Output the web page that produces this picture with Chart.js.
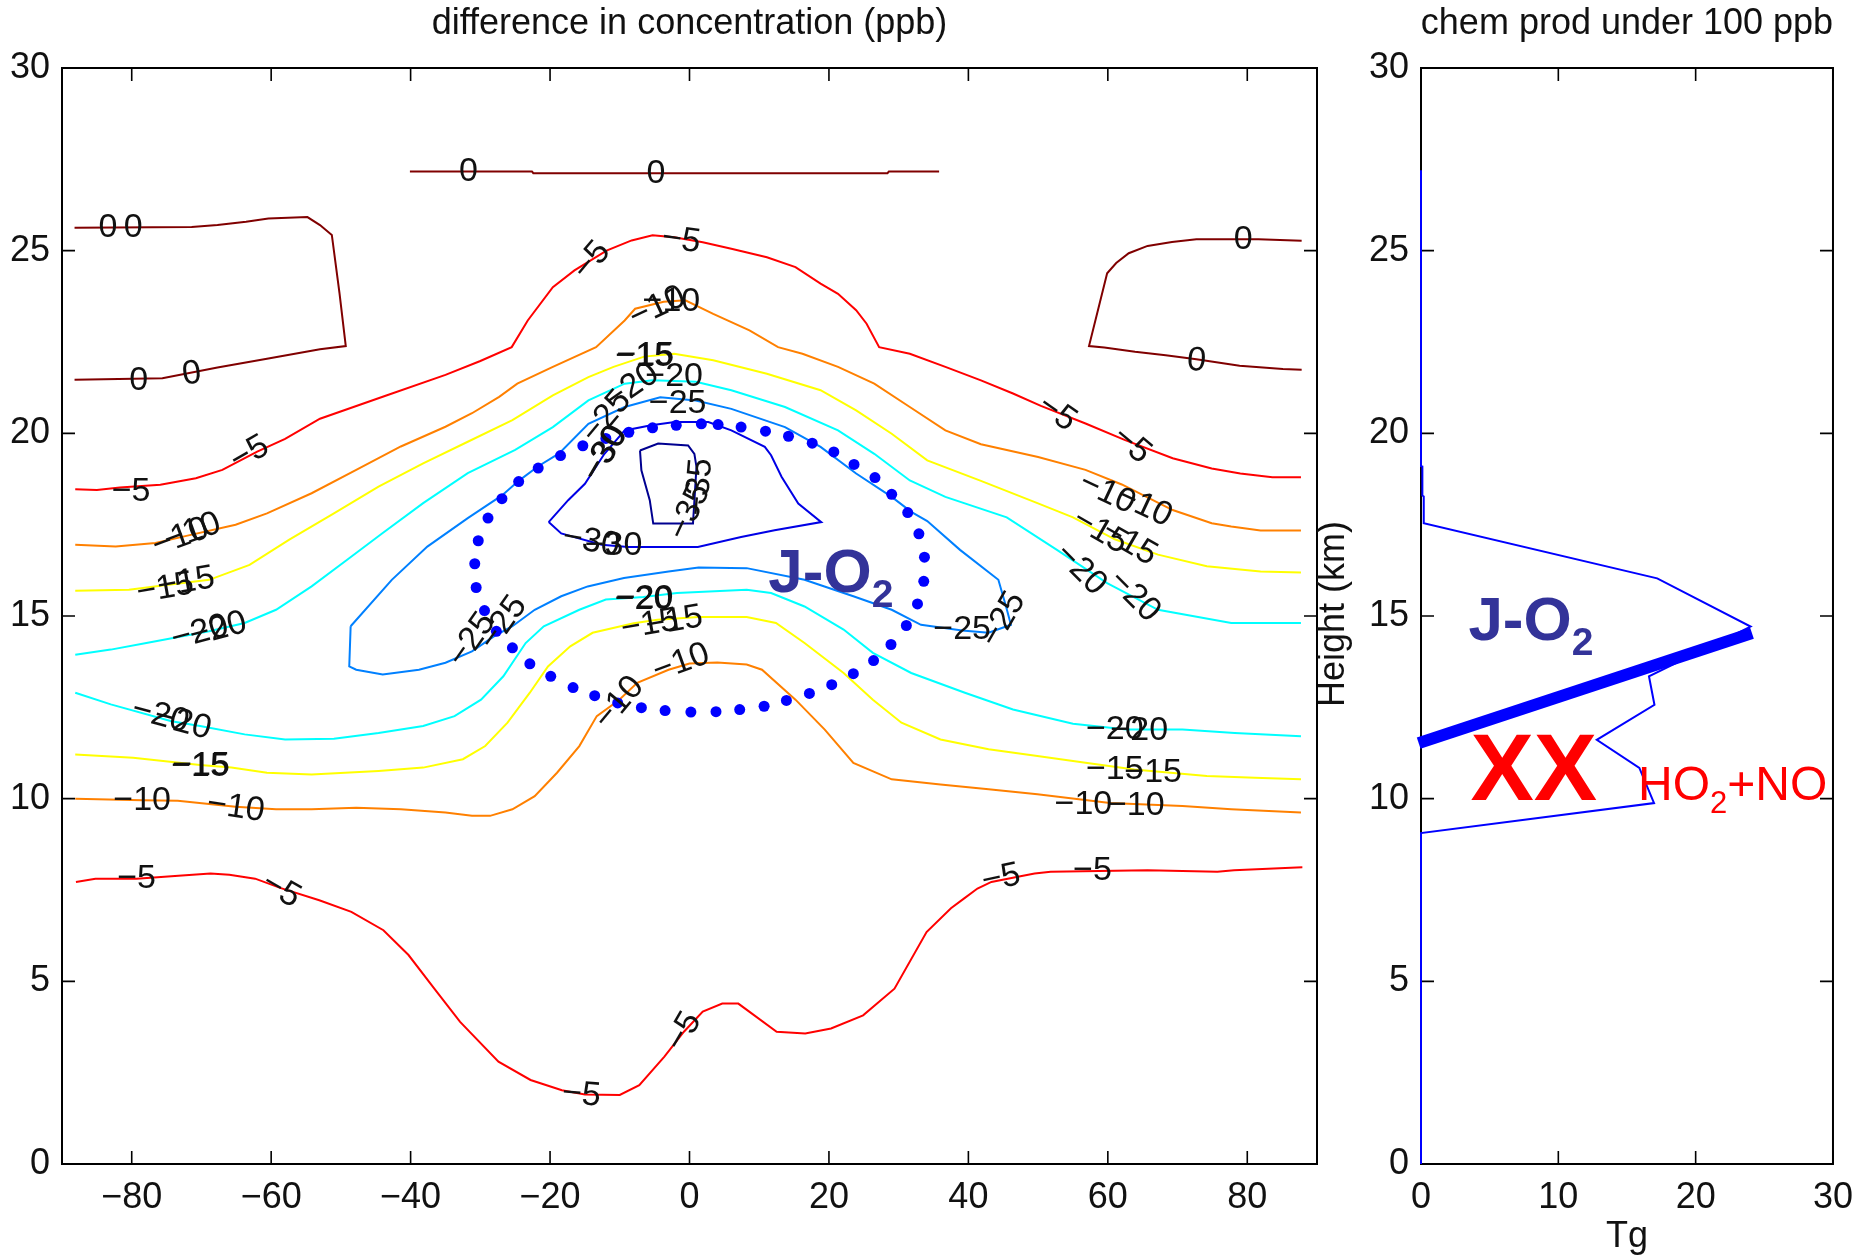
<!DOCTYPE html>
<html><head><meta charset="utf-8">
<script src="https://cdn.jsdelivr.net/npm/chart.js@4.4.1/dist/chart.umd.min.js"></script>
<style>
html,body{margin:0;padding:0;background:#fff;width:1865px;height:1260px;overflow:hidden;}
#wrapL{position:absolute;left:0;top:0;width:1330px;height:1260px;}
#wrapR{position:absolute;left:1300px;top:0;width:565px;height:1260px;}
canvas{display:block;}
</style></head><body>
<div id="wrapL"><canvas id="cL" width="1330" height="1260" style="width:1330px;height:1260px"></canvas></div>
<div id="wrapR"><canvas id="cR" width="565" height="1260" style="width:565px;height:1260px"></canvas></div>
<script>
// ---------- tick labels ----------
const lonTicks = [-80,-60,-40,-20,0,20,40,60,80];
const altTicks = [0,5,10,15,20,25,30];
const tgTicks = [0,10,20,30];

// ---------- contour levels ----------
const levels = [0,-5,-10,-15,-20,-25,-30,-35];
const levelColors = ['#800000','#ff0000','#ff8000','#ffff00','#00ffff','#0080ff','#0000e6','#000090'];

// ---------- contour lines [lon, alt] ----------
const c0_top = [[-40.1,27.17],[-22.6,27.17],[-22.4,27.12],[28.4,27.12],[28.6,27.17],[35.8,27.17]];
const c0_left = [[-88.2,25.63],[-71.4,25.65],[-67.7,25.70],[-63.6,25.79],[-60.4,25.88],[-54.8,25.92],[-53,25.7],[-51.3,25.43],[-50.2,23.84],[-49.3,22.39],[-53,22.3],[-60.4,22.05],[-67.7,21.8],[-75.6,21.51],[-88.2,21.47]];
const c0_right = [[87.8,25.27],[81.6,25.31],[72.7,25.31],[69.2,25.24],[65.7,25.13],[63,24.93],[61.2,24.66],[59.9,24.38],[57.3,22.39],[59.5,22.35],[63.9,22.23],[68.3,22.14],[72.7,22.03],[78.9,21.85],[85.1,21.76],[87.8,21.74]];

const c5_top = [[-88.1,18.47],[-85,18.45],[-81.7,18.52],[-75.9,18.59],[-70.8,18.77],[-67,19.0],[-62,19.5],[-58,19.85],[-53,20.4],[-44,21.0],[-35,21.6],[-30,21.98],[-25.5,22.36],[-23.2,23.09],[-19.6,24.0],[-16.5,24.46],[-11.9,25.0],[-8.3,25.28],[-5.3,25.42],[-2.2,25.37],[1.9,25.23],[6.0,25.05],[11.1,24.82],[15.2,24.55],[18.8,24.1],[21.3,23.82],[23.9,23.37],[25.4,23.0],[27.2,22.36],[31.6,22.18],[36.7,21.82],[41.8,21.45],[46.4,21.09],[50.4,20.75],[56.8,20.27],[62.4,19.82],[69.3,19.32],[74.9,19.04],[79.0,18.9],[83.6,18.8],[87.7,18.8]];
const c5_bottom = [[-88,7.72],[-85.2,7.81],[-79.3,7.81],[-73.3,7.89],[-68.7,7.95],[-66,7.92],[-62.3,7.81],[-58.6,7.55],[-53.1,7.22],[-48.5,6.9],[-43.9,6.4],[-40.3,5.72],[-36.6,4.8],[-32.9,3.89],[-27.4,2.8],[-22.8,2.3],[-18.3,2.02],[-15,1.9],[-10,1.89],[-7.2,2.16],[-3.6,2.94],[-0.8,3.62],[1.9,4.17],[4.7,4.39],[7.0,4.39],[12.5,3.62],[16.6,3.57],[20.3,3.71],[24.9,4.07],[29.4,4.8],[34.0,6.35],[37.5,7.0],[39.4,7.27],[41.3,7.54],[43.3,7.72],[47.1,7.86],[49.5,7.95],[51.8,8.0],[65.7,8.04],[75.7,8.0],[78.1,8.04],[83.8,8.09],[87.9,8.12]];

const c10_upper = [[-88.1,16.95],[-82.3,16.9],[-76.6,17.0],[-72,17.2],[-65.1,17.5],[-60.6,17.81],[-54.2,18.36],[-47.8,19.0],[-41.4,19.64],[-35.0,20.18],[-31.2,20.55],[-27.3,21.0],[-24.7,21.36],[-19.6,21.82],[-13.4,22.36],[-9.3,23.09],[-7.8,23.41],[-3.7,23.6],[-0.6,23.64],[3.4,23.27],[8.6,22.82],[12.7,22.36],[16.2,22.18],[21.3,21.82],[26.5,21.36],[31.6,20.72],[36.7,20.08],[41.8,19.7],[50,19.35],[56.8,19.0],[62,18.6],[69.3,17.9],[74.9,17.54],[77.7,17.45],[81.9,17.34],[87.7,17.34]];
const c10_lower = [[-88.1,10.0],[-78.5,9.96],[-73.4,9.94],[-65.1,9.78],[-59.3,9.71],[-54.2,9.71],[-47.8,9.75],[-41.4,9.71],[-35.0,9.62],[-31.2,9.53],[-28.6,9.53],[-25.4,9.71],[-22.2,10.07],[-19.0,10.71],[-15.8,11.44],[-13.3,12.26],[-10.1,12.7],[-7.5,13.17],[-3.0,13.53],[0,13.7],[4.0,13.73],[8.2,13.67],[10.4,13.53],[15.2,12.71],[19.4,11.89],[23.5,10.98],[29.0,10.53],[36.0,10.39],[42.9,10.26],[49.9,10.12],[60.3,9.88],[70.7,9.8],[77.7,9.71],[87.7,9.62]];

const c15_upper = [[-88.1,15.69],[-80.4,15.72],[-75,15.85],[-68.9,15.99],[-63.1,16.4],[-57.4,17.09],[-51.0,17.81],[-44.6,18.54],[-38.2,19.18],[-31.8,19.77],[-25.4,20.36],[-19.6,21.04],[-14.5,21.54],[-10.9,21.82],[-6.5,22.1],[-2.2,22.18],[3.4,22.0],[11.1,21.63],[18.8,21.18],[23.9,20.63],[29.0,19.99],[34.1,19.26],[41.8,18.7],[49.9,18.09],[55,17.7],[61,17.1],[67.2,16.68],[74.2,16.36],[81.9,16.22],[87.7,16.19]];
const c15_lower = [[-88.1,11.21],[-79.8,11.12],[-70.2,10.92],[-65.7,10.85],[-60.6,10.71],[-54.2,10.66],[-44.6,10.76],[-38.2,10.85],[-32.5,11.08],[-29.3,11.44],[-26.1,12.08],[-22.9,12.9],[-20.3,13.62],[-17.1,14.17],[-13.9,14.54],[-8,14.8],[-4.6,14.9],[1.3,14.97],[8.2,14.97],[12.4,14.81],[16.5,14.26],[22.1,13.44],[26.3,12.71],[30.4,12.08],[36.0,11.62],[42.9,11.35],[49.9,11.17],[56.8,10.98],[63.8,10.8],[74.2,10.62],[81.1,10.57],[87.7,10.53]];

const c20_upper = [[-88.1,13.94],[-83.0,14.08],[-77.9,14.26],[-68.9,14.58],[-63.8,14.81],[-59.3,15.17],[-54.2,15.81],[-49.1,16.54],[-44.0,17.27],[-38.2,18.09],[-31.8,18.91],[-25,19.55],[-19.6,20.17],[-14.5,20.9],[-9.3,21.36],[-5.3,21.45],[0.9,21.41],[6.0,21.18],[13.7,20.72],[21.3,20.08],[26.5,19.44],[31.6,18.71],[36.7,18.26],[45.5,17.7],[52.7,16.81],[59.9,15.9],[67.2,15.17],[77.7,14.81],[87.7,14.81]];
const c20_lower = [[-88.1,12.9],[-83.0,12.58],[-74.3,12.12],[-70.2,11.99],[-63.8,11.76],[-58.0,11.62],[-51.0,11.64],[-44.6,11.8],[-38.2,11.99],[-33.7,12.26],[-29.9,12.71],[-26.7,13.35],[-23.5,14.26],[-20.9,14.72],[-15.8,15.17],[-12.0,15.45],[-6.6,15.52],[-1.8,15.63],[8.2,15.72],[11.7,15.63],[16.5,15.26],[22.1,14.63],[26.3,13.99],[31.8,13.44],[39.5,12.9],[46.4,12.44],[55,12.05],[62.7,11.89],[70.7,11.89],[78.2,11.8],[87.7,11.71]];

const c25_loop = [[-48.6,14.72],[-42.7,15.99],[-37.6,16.9],[-31.8,17.68],[-26.9,18.3],[-24.5,18.7],[-21.7,19.1],[-18.7,19.45],[-14.5,20.26],[-9.3,20.72],[-4.2,20.99],[0.9,20.9],[6.0,20.67],[13.7,20.17],[18.8,19.63],[23.9,18.9],[29.0,18.26],[31.8,17.85],[34.1,17.6],[38.8,16.81],[44.3,15.99],[45.4,15.26],[46.1,14.76],[42.9,14.54],[39.1,14.6],[33.2,14.76],[29.0,15.17],[23.5,15.54],[16.5,15.99],[8.2,16.31],[1.3,16.33],[-3.0,16.22],[-9.4,16.04],[-14.6,15.81],[-18.4,15.54],[-22.2,15.17],[-25.4,14.72],[-28,14.45],[-31.2,14.03],[-35.0,13.72],[-38.8,13.53],[-44.0,13.4],[-47.8,13.53],[-48.8,13.62],[-48.6,14.72]];
const c30_loop = [[-20.2,17.57],[-17.4,18.17],[-15.0,18.62],[-12.2,19.44],[-9.3,20.08],[-5.5,20.22],[-2.1,20.31],[2.7,20.31],[6.0,20.08],[10.8,19.63],[11.7,19.4],[13.2,18.81],[15.6,18.08],[18.9,17.57],[12.2,17.35],[7.4,17.16],[1.2,16.89],[-4.5,16.89],[-8.8,16.89],[-12.6,16.95],[-18.4,17.26],[-20.2,17.57]];
const c35_loop = [[-7.1,19.53],[-4.5,19.72],[-0.2,19.67],[0.7,19.44],[1.0,19.08],[0.5,17.53],[-5.2,17.53],[-5.7,18.17],[-6.9,18.99],[-7.1,19.53]];

const contourList = [
  {level:0, pts:c0_top},{level:0, pts:c0_left},{level:0, pts:c0_right},
  {level:-5, pts:c5_top},{level:-5, pts:c5_bottom},
  {level:-10, pts:c10_upper},{level:-10, pts:c10_lower},
  {level:-15, pts:c15_upper},{level:-15, pts:c15_lower},
  {level:-20, pts:c20_upper},{level:-20, pts:c20_lower},
  {level:-25, pts:c25_loop},{level:-30, pts:c30_loop},{level:-35, pts:c35_loop}
];

// ---------- dotted J-O2 region [lon, alt] ----------
const dotsLon = [1.7,4.1,7.4,10.9,14.2,17.6,20.7,23.6,26.6,29.0,31.3,32.9,33.7,33.6,32.7,31.1,28.9,26.4,23.5,20.4,17.2,13.9,10.7,7.2,3.8,0.2,-3.5,-6.9,-10.3,-13.6,-16.7,-19.9,-22.9,-25.4,-27.7,-29.4,-30.6,-30.8,-30.3,-28.9,-26.9,-24.5,-21.7,-18.5,-15.3,-12.0,-8.7,-5.3,-1.9];
const dotsAlt = [20.26,20.24,20.17,20.06,19.92,19.73,19.49,19.15,18.79,18.33,17.83,17.25,16.61,15.95,15.33,14.74,14.22,13.78,13.42,13.12,12.88,12.69,12.53,12.44,12.38,12.37,12.41,12.49,12.62,12.82,13.04,13.35,13.69,14.13,14.58,15.15,15.78,16.43,17.06,17.68,18.21,18.68,19.05,19.39,19.66,19.86,20.03,20.15,20.22];

// ---------- contour labels ----------
const labelText = ['0','0','0','0','0','0','0','0',
 '−5','−5','−5','−5','−5','−5','−5','−5','−5','−5','−5','−5',
 '−10','−10','−10','−10','−10','−10','−10','−10','−10','−10','−10','−10',
 '−15','−15','−15','−15','−15','−15','−15','−15','−15','−15','−15','−15',
 '−20','−20','−20','−20','−20','−20','−20','−20','−20','−20','−20','−20',
 '−25','−25','−25','−25','−25','−25',
 '−30','−30','−30','−30',
 '−35','−35'];
const labelLon = [-31.7,-4.8,-83.4,-79.8,-79.0,-71.4,79.4,72.7,
 -80.1,-63.1,-14.0,-1.2,52.7,63.4,-79.3,-58.6,-15.5,-0.8,44.7,57.8,
 -73.0,-71.3,-4.6,-2.6,59.9,65.2,-78.5,-65.1,-10.1,-1.2,56.5,64.0,
 -75.2,-72.2,-6.5,-6.35,58.9,63.1,-70.2,-70.05,-5.7,-2.2,61.0,66.5,
 -70.2,-67.6,-8.3,-2.2,56.1,63.8,-75.9,-72.7,-6.6,-6.45,61.0,64.5,
 -11.9,-1.7,-31.2,-26.7,39.1,45.0,
 -12.2,-12.05,-14.1,-10.9,
 1.45,0.0];
const labelAlt = [27.15,27.12,25.64,25.64,21.45,21.62,25.29,21.98,
 18.41,19.45,24.73,25.28,20.55,19.68,7.81,7.49,1.89,3.62,7.82,8.04,
 17.15,17.3,23.45,23.6,18.36,18.0,9.94,9.75,12.62,13.72,9.85,9.8,
 15.75,15.92,22.1,22.12,17.31,16.99,10.89,10.91,14.76,14.85,10.8,10.71,
 14.54,14.63,21.27,21.54,16.27,15.54,12.26,12.08,15.45,15.47,11.89,11.85,
 20.45,20.81,14.35,14.81,14.63,14.9,
 19.44,19.46,17.03,16.94,
 18.53,17.85];
const labelAngle = [0,0,0,0,0,-8,0,5,
 0,-30,-50,8,35,40,0,30,5,-60,-12,0,
 -20,-20,-25,0,25,25,0,8,-50,-20,0,0,
 -10,-10,0,0,30,30,0,0,-10,-10,0,0,
 -15,-15,-35,0,45,45,15,15,0,0,0,0,
 -50,0,-55,-55,0,-60,
 -60,-60,10,0,
 -85,-65];

// ---------- right panel: chemical production profile ----------
const profTg  = [0, 0, 16.97, 15.9, 12.8, 17.0, 16.6, 24.0, 17.2, 0.2, 0.2, 0.1, 0.1, 0, 0];
const profAlt = [0, 9.06, 9.88, 10.84, 11.61, 12.57, 13.35, 14.71, 16.03, 17.54, 18.27, 18.3, 19.09, 19.1, 27.2];
const jo2LineTg  = [-0.17, 24.1];
const jo2LineAlt = [11.52, 14.53];

// ---------- styling ----------
const FONT = "'Liberation Sans', Arial, Helvetica, sans-serif";
const TICK = 13;
const fmt = v => v < 0 ? '\u2212' + Math.abs(v) : String(v);

function framePlugin(xVals, yVals){
  return {
    id: 'frame',
    beforeDatasetsDraw(chart){
      const {ctx, chartArea:a} = chart;
      const xs = chart.scales.x, ys = chart.scales.y;
      ctx.save();
      ctx.strokeStyle = '#000';
      ctx.lineWidth = 1.6;
      ctx.beginPath();
      xVals.forEach(v => {
        const p = xs.getPixelForValue(v);
        ctx.moveTo(p, a.bottom); ctx.lineTo(p, a.bottom - TICK);
        ctx.moveTo(p, a.top); ctx.lineTo(p, a.top + TICK);
      });
      yVals.forEach(v => {
        const p = ys.getPixelForValue(v);
        ctx.moveTo(a.left, p); ctx.lineTo(a.left + TICK, p);
        ctx.moveTo(a.right, p); ctx.lineTo(a.right - TICK, p);
      });
      ctx.stroke();
      ctx.lineWidth = 2;
      ctx.strokeRect(a.left, a.top, a.right - a.left, a.bottom - a.top);
      ctx.restore();
    }
  };
}

function subText(ctx, x, y, main, sub, tail, size, subSize, subDrop, weight, color){
  ctx.fillStyle = color;
  ctx.textAlign = 'left';
  ctx.textBaseline = 'alphabetic';
  ctx.font = `${weight} ${size}px ${FONT}`;
  ctx.fillText(main, x, y);
  let w = ctx.measureText(main).width;
  ctx.font = `${weight} ${subSize}px ${FONT}`;
  ctx.fillText(sub, x + w, y + subDrop);
  w += ctx.measureText(sub).width;
  if (tail){
    ctx.font = `${weight} ${size}px ${FONT}`;
    ctx.fillText(tail, x + w, y);
  }
}

const labelPlugin = {
  id: 'clabels',
  afterDatasetsDraw(chart){
    const {ctx, chartArea:a} = chart;
    const xs = chart.scales.x, ys = chart.scales.y;
    ctx.save();
    ctx.fillStyle = '#111';
    ctx.font = `34px ${FONT}`;
    ctx.textAlign = 'center';
    ctx.textBaseline = 'middle';
    for (let i = 0; i < labelText.length; i++){
      ctx.save();
      ctx.translate(xs.getPixelForValue(labelLon[i]), ys.getPixelForValue(labelAlt[i]));
      ctx.rotate(labelAngle[i] * Math.PI / 180);
      ctx.fillText(labelText[i], 0, 0);
      ctx.restore();
    }
    // J-O2 annotation
    subText(ctx, xs.getPixelForValue(11.3), ys.getPixelForValue(15.66), 'J-O', '2', '', 62, 39, 15, 'bold', '#333399');
    // title
    ctx.fillStyle = '#111';
    ctx.font = `36px ${FONT}`;
    ctx.textAlign = 'center';
    ctx.textBaseline = 'middle';
    ctx.fillText('difference in concentration (ppb)', (a.left + a.right) / 2, a.top - 44);
    ctx.restore();
  }
};

const rightTextPlugin = {
  id: 'rtext',
  afterDatasetsDraw(chart){
    const {ctx, chartArea:a} = chart;
    const xs = chart.scales.x, ys = chart.scales.y;
    ctx.save();
    subText(ctx, xs.getPixelForValue(3.45), ys.getPixelForValue(14.34), 'J-O', '2', '', 62, 39, 15, 'bold', '#333399');
    ctx.fillStyle = '#ff0000';
    ctx.font = `bold 95px ${FONT}`;
    ctx.textAlign = 'left';
    ctx.textBaseline = 'alphabetic';
    ctx.fillText('XX', xs.getPixelForValue(3.6), ys.getPixelForValue(9.96));
    subText(ctx, xs.getPixelForValue(15.8), ys.getPixelForValue(9.96), 'HO', '2', '+NO', 48, 31, 13, 'normal', '#ff0000');
    ctx.fillStyle = '#111';
    ctx.font = `36px ${FONT}`;
    ctx.textAlign = 'center';
    ctx.textBaseline = 'middle';
    ctx.fillText('chem prod under 100 ppb', (a.left + a.right) / 2, a.top - 44);
    ctx.fillText('Tg', (a.left + a.right) / 2, a.bottom + 73);
    ctx.save();
    ctx.translate(a.left - 87, (a.top + a.bottom) / 2 - 2);
    ctx.rotate(-Math.PI / 2);
    ctx.fillText('Height (km)', 0, 0);
    ctx.restore();
    ctx.restore();
  }
};

function axis(min, max, vals, fitKey, fitVal, pad){
  return {
    type: 'linear', min, max,
    grid: {display: false, drawTicks: false},
    border: {display: false},
    ticks: {color: '#111', font: {size: 36, family: FONT}, padding: pad, maxRotation: 0, autoSkip: false,
            callback: v => fmt(v)},
    afterBuildTicks: s => { s.ticks = vals.map(v => ({value: v})); },
    afterFit: s => { s[fitKey] = fitVal; }
  };
}

Chart.defaults.font.family = FONT;

const leftDatasets = [{
  data: dotsLon.map((v, i) => ({x: v, y: dotsAlt[i]})),
  showLine: false, pointRadius: 5.5, pointBackgroundColor: '#0000ff', pointBorderWidth: 0,
  borderColor: '#0000ff', backgroundColor: '#0000ff', order: 0
}].concat(contourList.map(c => ({
  data: c.pts.map(p => ({x: p[0], y: p[1]})),
  showLine: true, pointRadius: 0, borderWidth: 2, tension: 0, fill: false,
  borderColor: levelColors[levels.indexOf(c.level)], order: 1
})));

new Chart(document.getElementById('cL'), {
  type: 'scatter',
  data: {datasets: leftDatasets},
  options: {
    responsive: false, animation: false, devicePixelRatio: 1,
    layout: {padding: {left: 0, top: 68, right: 13, bottom: 0}},
    plugins: {legend: {display: false}, tooltip: {enabled: false}},
    scales: {
      x: axis(-90, 90, lonTicks, 'height', 96, 12),
      y: axis(0, 30, altTicks, 'width', 62, 12)
    }
  },
  plugins: [framePlugin(lonTicks, altTicks), labelPlugin]
});

new Chart(document.getElementById('cR'), {
  type: 'scatter',
  data: {datasets: [
    {data: jo2LineTg.map((v, i) => ({x: v, y: jo2LineAlt[i]})), showLine: true, pointRadius: 0,
     borderWidth: 12, borderColor: '#0000ff', borderCapStyle: 'butt', clip: false, order: 0},
    {data: profTg.map((v, i) => ({x: v, y: profAlt[i]})), showLine: true, pointRadius: 0,
     borderWidth: 2, borderColor: '#0000ff', tension: 0, clip: false, order: 1}
  ]},
  options: {
    responsive: false, animation: false, devicePixelRatio: 1,
    layout: {padding: {left: 0, top: 68, right: 27, bottom: 0}},
    plugins: {legend: {display: false}, tooltip: {enabled: false}},
    scales: {
      x: axis(0, 30, tgTicks, 'height', 96, 12),
      y: axis(0, 30, altTicks, 'width', 121, 12)
    }
  },
  plugins: [framePlugin(tgTicks, altTicks), rightTextPlugin]
});
</script>
</body></html>
